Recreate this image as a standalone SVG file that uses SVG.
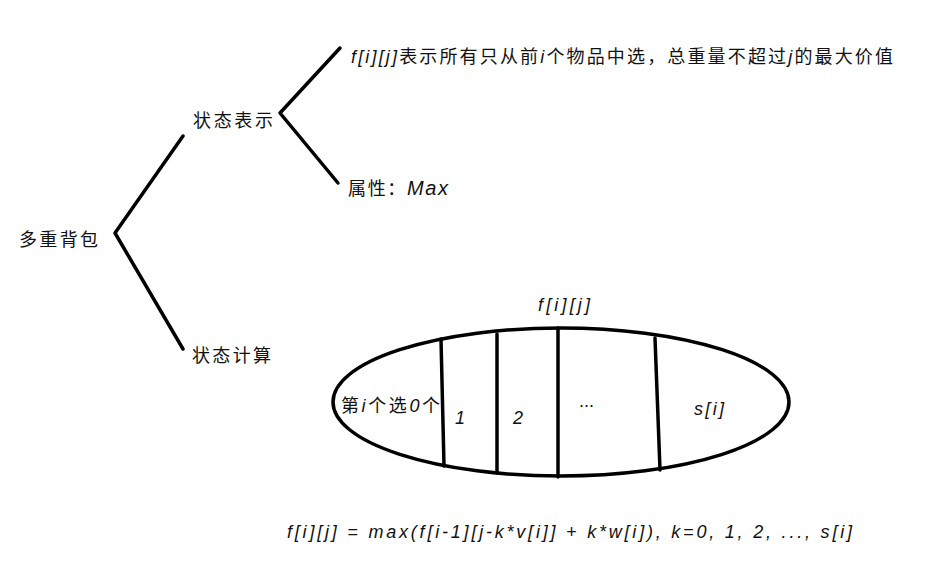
<svg xmlns="http://www.w3.org/2000/svg" width="944" height="578" viewBox="0 0 944 578">
<style>
.t{font-family:"Liberation Sans","Noto Sans CJK SC",sans-serif;font-size:18px;fill:#111}
.m{font-family:"Liberation Sans","Noto Sans CJK SC",sans-serif;font-size:18px;font-style:italic;fill:#111}
.l{stroke:#000;stroke-width:3.5;fill:none;stroke-linecap:round;stroke-linejoin:round}
</style>
<rect width="944" height="578" fill="#fff"/>
<g id="connectors">
<polyline class="l" points="183,136 115,233 183,349"/>
<polyline class="l" points="340,48 280,113 338,183"/>
</g>
<g id="root"><text class="t" x="19" y="246" textLength="79">多重背包</text></g>
<g id="repr"><text class="t" x="193" y="127" textLength="80">状态表示</text></g>
<g id="calc"><text class="t" x="192" y="362" textLength="79">状态计算</text></g>
<g id="def"><text class="t" x="351" y="63" textLength="542"><tspan font-style="italic">f[i][j]</tspan>表示所有只从前<tspan font-style="italic">i</tspan>个物品中选，总重量不超过<tspan font-style="italic">j</tspan>的最大价值</text></g>
<g id="attr"><text class="t" x="348" y="195" textLength="100">属性：<tspan font-style="italic" font-size="20">Max</tspan></text></g>
<g id="set">
<ellipse class="l" cx="561" cy="402" rx="228" ry="74"/>
<line class="l" x1="441" y1="339" x2="444" y2="466"/>
<line class="l" x1="497" y1="334" x2="497" y2="473"/>
<line class="l" x1="558" y1="328" x2="558" y2="477"/>
<line class="l" x1="655" y1="338" x2="660" y2="470"/>
<text class="m" x="538" y="311" font-size="20" textLength="52">f[i][j]</text>
<text class="t" x="341" y="412" textLength="99">第<tspan font-style="italic">i</tspan>个选<tspan font-style="italic">0</tspan>个</text>
<text class="m" x="455" y="424">1</text>
<text class="m" x="513" y="424">2</text>
<text class="t" x="579" y="407">...</text>
<text class="m" x="694" y="415" font-size="20" textLength="30">s[i]</text>
</g>
<g id="formula"><text class="m" x="287" y="538" font-size="20" textLength="565">f[i][j] = max(f[i-1][j-k*v[i]] + k*w[i]), k=0, 1, 2, ..., s[i]</text></g>
</svg>
